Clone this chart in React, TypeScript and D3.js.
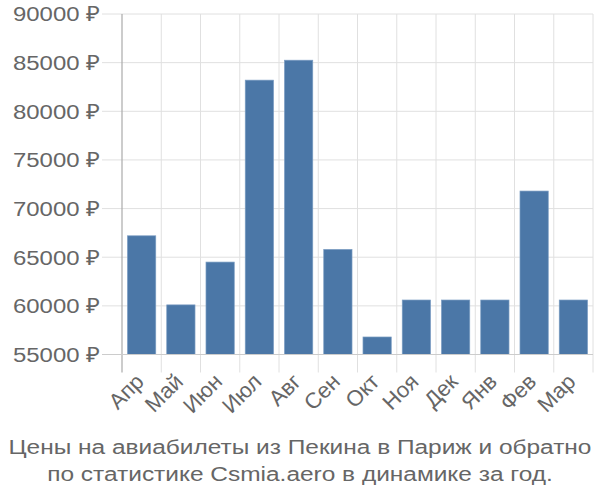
import React from "react";
import * as d3 from "d3";

const months = ["Апр", "Май", "Июн", "Июл", "Авг", "Сен", "Окт", "Ноя", "Дек", "Янв", "Фев", "Мар"];
const prices = [67200, 60100, 64500, 83200, 85250, 65800, 56800, 60600, 60600, 60600, 71800, 60600];
const yTicks = [55000, 60000, 65000, 70000, 75000, 80000, 85000, 90000];
const titleLines = [
  "Цены на авиабилеты из Пекина в Париж и обратно",
  "по статистике Csmia.aero в динамике за год.",
];

const W = 600;
const H = 500;
const left = 122;
const right = 593;
const top = 14;
const bottom = 354.5;
const font = "'Liberation Sans', Arial, sans-serif";
const textColor = "#666";
const gridColor = "#e0e0e0";
const sx = 1.14;

export default function App() {
  const x = d3.scaleBand<string>().domain(months).range([left, right]).paddingInner(0.28).paddingOuter(0.14);
  const xGrid = d3.scaleBand<string>().domain(months).range([left, right]);
  const y = d3.scaleLinear().domain([55000, 90000]).range([bottom, top]);

  return (
    <svg width={W} height={H} style={{ position: "absolute", left: 0, top: 0 }}>
      <rect width={W} height={H} fill="#fff" />
      {yTicks.map((t) => (
        <line key={t} x1={102} x2={right} y1={y(t)} y2={y(t)} stroke={gridColor} strokeWidth={1} />
      ))}
      {months.map((m) => (
        <line
          key={m}
          x1={(xGrid(m) as number) + xGrid.bandwidth()}
          x2={(xGrid(m) as number) + xGrid.bandwidth()}
          y1={top}
          y2={bottom + 18}
          stroke={gridColor}
          strokeWidth={1}
        />
      ))}
      {months.map((m, i) => (
        <rect
          key={m}
          x={x(m)}
          y={y(prices[i])}
          width={x.bandwidth()}
          height={bottom - y(prices[i])}
          fill="#4b77a7"
          stroke="#7a9cc2"
          strokeWidth={0.7}
        />
      ))}
      <line x1={left} x2={left} y1={top} y2={bottom + 18} stroke="#aaa" strokeWidth={1.2} />
      <line x1={102} x2={right} y1={bottom} y2={bottom} stroke="#ccc" strokeWidth={1.2} />
      {yTicks.map((t) => (
        <text
          key={t}
          transform={`translate(100,${y(t)}) scale(${sx},1)`}
          dy="0.35em"
          textAnchor="end"
          fontFamily={font}
          fontSize={21}
          fill={textColor}
        >
          {`${t} ₽`}
        </text>
      ))}
      {months.map((m) => {
        const cx = (xGrid(m) as number) + xGrid.bandwidth() / 2 + 3.5;
        const cy = bottom + 28.5;
        return (
          <text
            key={m}
            transform={`translate(${cx},${cy}) rotate(-45)`}
            textAnchor="end"
            fontFamily={font}
            fontSize={22}
            fill={textColor}
          >
            {m}
          </text>
        );
      })}
      {titleLines.map((l, i) => (
        <text
          key={i}
          transform={`translate(${W / 2},${454 + i * 27}) scale(1.165,1)`}
          textAnchor="middle"
          fontFamily={font}
          fontSize={21}
          fill={textColor}
        >
          {l}
        </text>
      ))}
    </svg>
  );
}
